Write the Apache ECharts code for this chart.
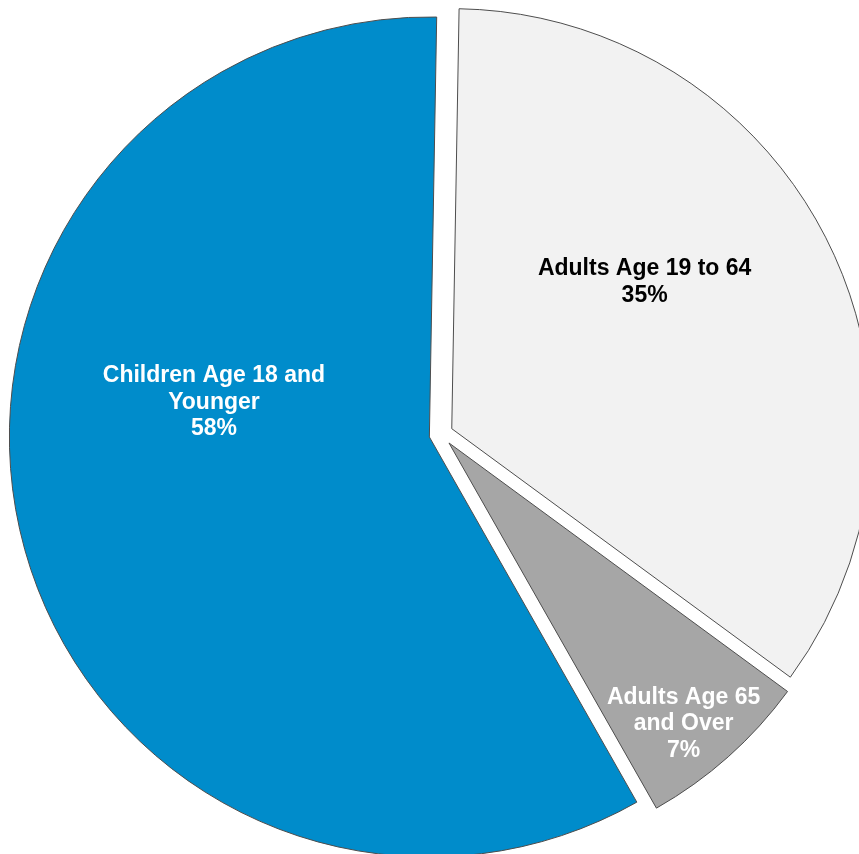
<!DOCTYPE html>
<html>
<head>
<meta charset="utf-8">
<script src="https://cdn.jsdelivr.net/npm/echarts@6/dist/echarts.min.js"></script>
<style>
  html, body { margin: 0; padding: 0; background: #fff; }
  #chart { width: 859px; height: 854px; }
</style>
</head>
<body>
<div id="chart"></div>
<script>
var categories = ['Adults Age 19 to 64', 'Adults Age 65\nand Over', 'Children Age 18 and\nYounger'];
// slice sizes
var shares = [34.8, 6.7, 58.5];
// percentages as printed on the slices
var shownPct = [35, 7, 58];
var colors = ['#f2f2f2', '#a6a6a6', '#008ccb'];
var labelColors = ['#000000', '#ffffff', '#ffffff'];
// nudges that move each label from the slice middle to where the original puts it
var labelShift = [[2, -52], [93, 122], [-9, -87]];

var chart = echarts.init(document.getElementById('chart'));

var pieData = categories.map(function (name, i) {
    return {
        name: name,
        value: shares[i],
        selected: true,
        itemStyle: { color: colors[i] },
        label: { color: labelColors[i] }
    };
});

var option = {
    animation: false,
    series: [
        {
            type: 'pie',
            center: [441, 434],
            radius: [0, 420],
            startAngle: 89,
            clockwise: true,
            selectedMode: 'multiple',
            selectedOffset: 12,
            silent: true,
            itemStyle: { borderColor: '#4d4d4d', borderWidth: 1 },
            select: { itemStyle: { borderColor: '#4d4d4d', borderWidth: 1 } },
            label: {
                show: true,
                position: 'inside',
                fontFamily: 'Liberation Sans, Arial, sans-serif',
                fontWeight: 'bold',
                fontSize: 23,
                lineHeight: 26.5,
                align: 'center',
                formatter: function (p) { return p.name + '\n' + shownPct[p.dataIndex] + '%'; }
            },
            labelLine: { show: false },
            labelLayout: function (p) {
                return { dx: labelShift[p.dataIndex][0], dy: labelShift[p.dataIndex][1] };
            },
            data: pieData
        }
    ]
};

chart.setOption(option);
</script>
</body>
</html>
